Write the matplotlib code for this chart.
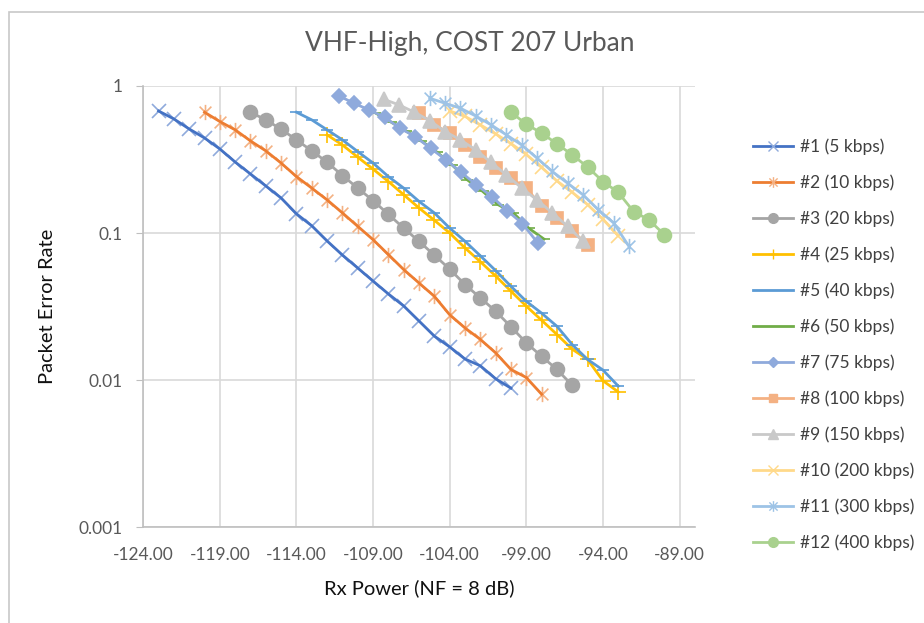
import numpy as np
import matplotlib
matplotlib.use('Agg')
import matplotlib.pyplot as plt
from matplotlib.path import Path
from matplotlib.patches import Rectangle
from matplotlib.lines import Line2D

plt.rcParams['font.family'] = ['Lato', 'DejaVu Sans']

# data: Rx power (dBm) and packet error rate per mode
x1 = [-123, -122, -121, -120, -119, -118, -117, -116, -115, -114, -113, -112,
      -111, -110, -109, -108, -107, -106, -105, -104, -103, -102, -101, -100]
y1 = [0.676, 0.597, 0.510, 0.443, 0.373, 0.304, 0.252, 0.209, 0.173, 0.135, 0.112, 0.0883,
      0.0708, 0.0578, 0.0471, 0.0385, 0.0319, 0.0252, 0.0199, 0.0168, 0.0139, 0.0125, 0.0102, 0.0088]

x2 = [-120, -119, -118, -117, -116, -115, -114, -113, -112, -111, -110, -109,
      -108, -107, -106, -105, -104, -103, -102, -101, -100, -99, -98]
y2 = [0.663, 0.573, 0.503, 0.423, 0.362, 0.299, 0.242, 0.202, 0.168, 0.137, 0.111, 0.0901,
      0.0713, 0.0564, 0.0457, 0.0371, 0.0278, 0.0226, 0.0189, 0.0153, 0.0118, 0.0104, 0.0080]

x3 = [-117, -116, -115, -114, -113, -112, -111, -110, -109, -108, -107,
      -106, -105, -104, -103, -102, -101, -100, -99, -98, -97, -96]
y3 = [0.663, 0.588, 0.508, 0.430, 0.362, 0.303, 0.246, 0.202, 0.166, 0.134, 0.108,
      0.0877, 0.0707, 0.0568, 0.0446, 0.0362, 0.0294, 0.0230, 0.0179, 0.0145, 0.0118, 0.0092]

x4 = [-112, -111, -110, -109, -108, -107, -106, -105, -104, -103,
      -102, -101, -100, -99, -98, -97, -96, -95, -94, -93]
y4 = [0.465, 0.397, 0.328, 0.272, 0.224, 0.182, 0.148, 0.122, 0.100, 0.0791,
      0.0638, 0.0510, 0.0402, 0.0318, 0.0255, 0.0204, 0.0162, 0.0138, 0.0099, 0.0083]

x5 = [-114, -113, -112, -111, -110, -109, -108, -107, -106, -105, -104,
      -103, -102, -101, -100, -99, -98, -97, -96, -95, -94, -93]
y5 = [0.663, 0.588, 0.503, 0.430, 0.358, 0.299, 0.242, 0.202, 0.164, 0.137, 0.108,
      0.0879, 0.0700, 0.0555, 0.0434, 0.0343, 0.0285, 0.0232, 0.0174, 0.0138, 0.0117, 0.0091]

x6 = [-108.85, -107.85, -106.85, -105.85, -104.85, -103.85,
      -102.85, -101.85, -100.85, -99.85, -98.85, -97.85]
y6 = [0.656, 0.570, 0.495, 0.423, 0.356, 0.291,
      0.230, 0.192, 0.156, 0.137, 0.108, 0.0910]

x7 = [-111.25, -110.25, -109.25, -108.25, -107.25, -106.25, -105.25,
      -104.25, -103.25, -102.25, -101.25, -100.25, -99.25, -98.25]
y7 = [0.859, 0.763, 0.687, 0.613, 0.516, 0.453, 0.377,
      0.315, 0.258, 0.213, 0.177, 0.142, 0.116, 0.0855]

x8 = [-106, -105, -104, -103, -102, -101, -100, -99, -98, -97, -96, -95]
y8 = [0.653, 0.544, 0.478, 0.397, 0.328, 0.276, 0.236, 0.202, 0.152, 0.126, 0.103, 0.0833]

x9 = [-108.3, -107.3, -106.3, -105.3, -104.3, -103.3, -102.3,
      -101.3, -100.3, -99.3, -98.3, -97.3, -96.3, -95.3]
y9 = [0.812, 0.743, 0.663, 0.581, 0.490, 0.430, 0.368,
      0.302, 0.249, 0.202, 0.168, 0.137, 0.111, 0.0877]

x10 = [-104, -103, -102, -101, -100, -99, -98, -97, -96, -95, -94, -93]
y10 = [0.677, 0.621, 0.544, 0.472, 0.406, 0.342, 0.279, 0.226, 0.189, 0.156, 0.124, 0.0959]

x11 = [-105.3, -104.3, -103.3, -102.3, -101.3, -100.3, -99.3,
       -98.3, -97.3, -96.3, -95.3, -94.3, -93.3, -92.3]
y11 = [0.825, 0.763, 0.706, 0.625, 0.544, 0.465, 0.397,
       0.323, 0.262, 0.218, 0.182, 0.144, 0.117, 0.0811]

x12 = [-100, -99, -98, -97, -96, -95, -94, -93, -92, -91, -90]
y12 = [0.663, 0.550, 0.478, 0.404, 0.340, 0.281, 0.224, 0.189, 0.140, 0.123, 0.0976]

labels = ['#1 (5 kbps)', '#2 (10 kbps)', '#3 (20 kbps)', '#4 (25 kbps)', '#5 (40 kbps)',
          '#6 (50 kbps)', '#7 (75 kbps)', '#8 (100 kbps)', '#9 (150 kbps)',
          '#10 (200 kbps)', '#11 (300 kbps)', '#12 (400 kbps)']

# excel style asterisk: an X plus a vertical bar
star = Path([(-1, -1), (1, 1), (-1, 1), (1, -1), (0, -1.3), (0, 1.3)],
            [Path.MOVETO, Path.LINETO, Path.MOVETO, Path.LINETO, Path.MOVETO, Path.LINETO])

# (x, y, line colour, marker, marker colour, marker size, filled)
series = [
    (x1, y1, '#4472C4', 'x', '#8FAADC', 10, False),
    (x2, y2, '#ED7D31', star, '#F4B183', 11, False),
    (x3, y3, '#A5A5A5', 'o', '#A5A5A5', 10, True),
    (x4, y4, '#FFC000', '+', '#FFC000', 11, False),
    (x5, y5, '#5B9BD5', '_', '#5B9BD5', 9, False),
    (x6, y6, '#70AD47', '_', '#70AD47', 9, False),
    (x7, y7, '#8FAADC', 'D', '#8FAADC', 7.5, True),
    (x8, y8, '#F4B183', 's', '#F4B183', 8.5, True),
    (x9, y9, '#C9C9C9', '^', '#C9C9C9', 9.5, True),
    (x10, y10, '#FFD98A', 'x', '#FFD98A', 10, False),
    (x11, y11, '#9DC3E6', star, '#9DC3E6', 11, False),
    (x12, y12, '#A9D18E', 'o', '#A9D18E', 10, True),
]

fig = plt.figure(figsize=(9.24, 6.23), dpi=100)
ax = fig.add_axes([0.155, 0.154, 0.597, 0.708])

handles = []
for i, (xs, ys, col, mk, mcol, ms, filled) in enumerate(series):
    fc = mcol if filled else 'none'
    # markers under the line, as in the excel rendering
    ax.plot(xs, ys, ls='none', marker=mk, ms=ms, markerfacecolor=fc,
            markeredgecolor=mcol, markeredgewidth=1.2, zorder=2 + 2 * i)
    ax.plot(xs, ys, color=col, lw=2.0, zorder=3 + 2 * i)
    lm = 'none' if mk == '_' else mk
    handles.append(Line2D([], [], color=col, lw=2.0, marker=lm, ms=ms * 0.7,
                          markerfacecolor=fc, markeredgecolor=mcol, markeredgewidth=1.0))

ax.set_yscale('log')
ax.set_ylim(0.001, 1)
ax.set_xlim(-124, -88)
ax.set_xticks(np.arange(-124, -88, 5))
ax.set_xticklabels(['%.2f' % v for v in np.arange(-124, -88, 5)])
ax.set_yticks([0.001, 0.01, 0.1, 1])
ax.set_yticklabels(['0.001', '0.01', '0.1', '1'])
ax.yaxis.set_minor_locator(matplotlib.ticker.NullLocator())

ax.grid(True, color='#D9D9D9', lw=1.2)
ax.set_axisbelow(True)
for s in ['top', 'right']:
    ax.spines[s].set_visible(False)
for s in ['left', 'bottom']:
    ax.spines[s].set_color('#BFBFBF')
    ax.spines[s].set_linewidth(1.2)
ax.tick_params(axis='x', length=0, pad=14, labelsize=12.5, labelcolor='#595959')
ax.tick_params(axis='y', length=5, color='#BFBFBF', pad=10, labelsize=12.5, labelcolor='#595959')

ax.set_xlabel('Rx Power (NF = 8 dB)', fontsize=14.5, color='#111111', labelpad=12)
ax.set_ylabel('Packet Error Rate', fontsize=14.5, color='#111111', labelpad=16)
fig.text(0.508, 0.93, 'VHF-High, COST 207 Urban', ha='center', va='center',
         fontsize=19, color='#595959')

fig.legend(handles, labels, loc='center left', bbox_to_anchor=(737 / 924, 1 - 345 / 623),
           frameon=False, fontsize=12.5, labelspacing=1.12, handlelength=2.3,
           handletextpad=0.4, labelcolor='#404040')

# outer chart frame, cut off at the right and bottom
fig.patches.append(Rectangle((9 / 924, -0.1), 1.2, 0.981 + 0.1, transform=fig.transFigure,
                             fill=False, edgecolor='#C8C8C8', lw=1.2))

fig.savefig('out.png', dpi=100)
